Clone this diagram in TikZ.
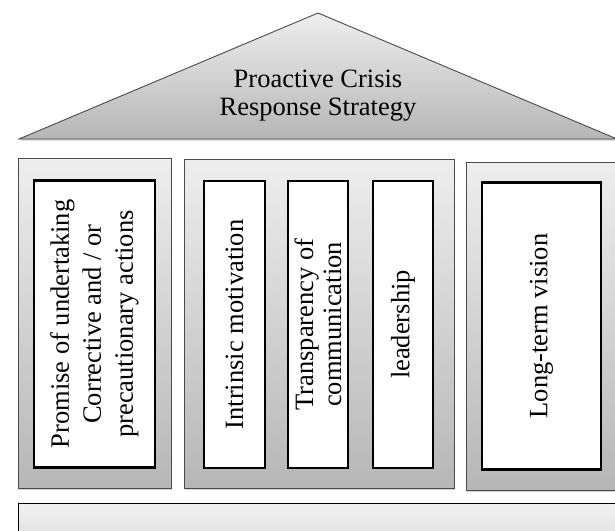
\documentclass[tikz,border=0pt]{standalone}
\usepackage{fontspec}
\setmainfont{Liberation Serif}
\usetikzlibrary{shadows}
\definecolor{shadelight}{HTML}{EEEEEE}
\definecolor{shadedark}{HTML}{B6B6B6}
\definecolor{edgegray}{HTML}{4A4A4A}
\begin{document}
\begin{tikzpicture}[x=1pt, y=-1pt,
    txt/.style={font=\fontsize{26.5}{28}\selectfont, align=center},
    roof/.style={draw=edgegray, line width=0.9pt, top color=shadelight, bottom color=shadedark,
        drop shadow={shadow xshift=1pt, shadow yshift=-1.5pt, opacity=0.35}},
    pillar/.style={draw=edgegray, line width=0.9pt, top color=shadelight, bottom color=shadedark,
        drop shadow={shadow xshift=1pt, shadow yshift=-1.5pt, opacity=0.35}},
    post/.style={txt, draw=black, line width=2.6pt, fill=white, rotate=90, inner sep=0pt,
        minimum width=287pt,
        drop shadow={shadow xshift=1pt, shadow yshift=-1pt, opacity=0.3}},
    floor/.style={draw=black, line width=0.9pt, top color=shadelight!80!white, bottom color=shadelight!60!shadedark}]
  \useasboundingbox (0,0) rectangle (615,530);
  \clip (0,0) rectangle (615,530);
  \fill[white] (0,0) rectangle (615,530);

  \draw[roof] (19,139) -- (318,13) -- (617,139) -- cycle;
  \node[txt] (strategy) at (318,96) {Proactive Crisis\\Response Strategy};

  \node[pillar, minimum width=153pt, minimum height=330pt] (colA) at (94.5,323) {};
  \node[pillar, minimum width=270pt, minimum height=329pt] (colB) at (319,323.5) {};
  \node[pillar, minimum width=152pt, minimum height=328pt] (colC) at (542,326) {};

  \node[post, minimum height=121pt, font=\fontsize{26.5}{32}\selectfont] (promise) at (94.5,324)
    {Promise of undertaking\\Corrective and / or\\precautionary actions};
  \node[post, minimum height=61pt] (motivation) at (234.5,324.5) {Intrinsic motivation};
  \node[post, minimum height=60pt] (transparency) at (318,324.5) {Transparency of\\communication};
  \node[post, minimum height=60pt] (leadership) at (403,324.5) {leadership};
  \node[post, minimum height=119pt] (vision) at (541.5,326) {Long-term vision};

  \draw[floor] (18,503) rectangle (630,560);
\end{tikzpicture}
\end{document}
